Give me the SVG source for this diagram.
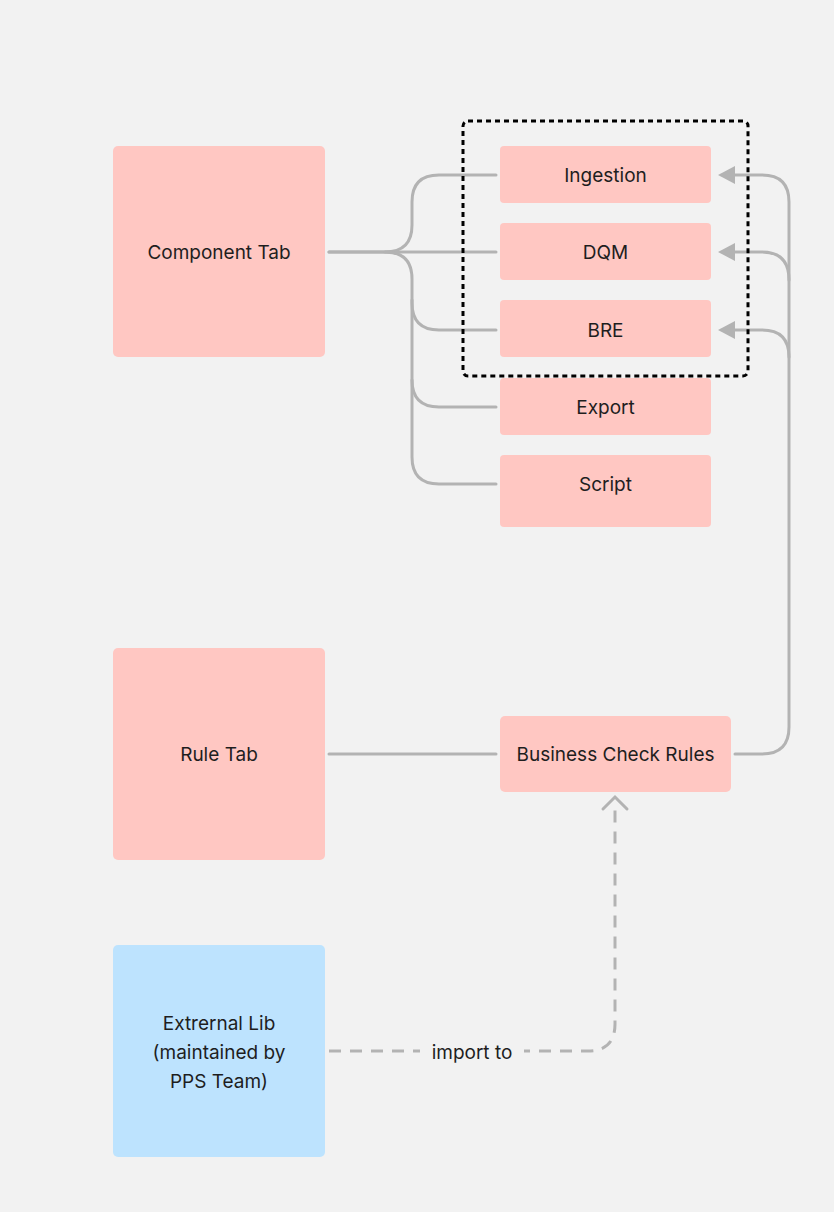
<svg xmlns="http://www.w3.org/2000/svg" width="834" height="1212" viewBox="0 0 834 1212">
<style>
.n{fill:#ffc7c2}
.b{fill:#bde3fe}
.t{font-family:Inter,"Liberation Sans",sans-serif;font-size:19px;fill:#1e1e1e;text-anchor:middle;dominant-baseline:central}
.c{fill:none;stroke:#b3b3b3;stroke-width:3;stroke-linecap:round}
.d{fill:none;stroke:#b3b3b3;stroke-width:3;stroke-dasharray:12 9}
</style>
<rect width="834" height="1212" fill="#f2f2f2"/>
<g id="connectors">
<path class="c" d="M329,252 H385 Q412,252 412,225 V202 Q412,175 439,175 H496"/>
<path class="c" d="M329,252 H496"/>
<path class="c" d="M385,252 Q412,252 412,279 V303 Q412,330 439,330 H496"/>
<path class="c" d="M412,300 V380 Q412,407 439,407 H496"/>
<path class="c" d="M412,380 V457 Q412,484 439,484 H496"/>
<path class="c" d="M329,754 H496"/>
<path class="c" d="M735,754 H762 Q789,754 789,727 V202 Q789,175 762,175 H735"/>
<path class="c" d="M789,280 Q789,252 762,252 H735"/>
<path class="c" d="M789,357 Q789,330 762,330 H735"/>
<path d="M735,166 L718,175 L735,184 Z" fill="#b3b3b3"/>
<path d="M735,243 L718,252 L735,261 Z" fill="#b3b3b3"/>
<path d="M735,321 L718,330 L735,339 Z" fill="#b3b3b3"/>
<path class="d" d="M329,1051 H588 Q615,1051 615,1024 V802"/>
<path class="c" d="M603,809 L615,797 L627,809"/>
<rect x="420" y="1038" width="104" height="28" fill="#f2f2f2"/>
<text class="t" x="472" y="1052">import to</text>
</g>
<g id="group-box">
<rect x="463" y="121" width="285" height="255" rx="5" fill="none" stroke="#000" stroke-width="3" stroke-dasharray="5 4"/>
</g>
<g id="component-tab"><rect class="n" x="113" y="146" width="212" height="211" rx="5"/><text class="t" x="219" y="252">Component Tab</text></g>
<g id="ingestion"><rect class="n" x="500" y="146" width="211" height="57" rx="4"/><text class="t" x="605.5" y="175">Ingestion</text></g>
<g id="dqm"><rect class="n" x="500" y="223" width="211" height="57" rx="4"/><text class="t" x="605.5" y="252">DQM</text></g>
<g id="bre"><rect class="n" x="500" y="300" width="211" height="57" rx="4"/><text class="t" x="605.5" y="330">BRE</text></g>
<g id="export"><rect class="n" x="500" y="378" width="211" height="57" rx="4"/><text class="t" x="605.5" y="407">Export</text></g>
<g id="script"><rect class="n" x="500" y="455" width="211" height="72" rx="4"/><text class="t" x="605.5" y="484">Script</text></g>
<g id="rule-tab"><rect class="n" x="113" y="648" width="212" height="212" rx="5"/><text class="t" x="219" y="754">Rule Tab</text></g>
<g id="business-check-rules"><rect class="n" x="500" y="716" width="231" height="76" rx="5"/><text class="t" x="615.5" y="754">Business Check Rules</text></g>
<g id="external-lib"><rect class="b" x="113" y="945" width="212" height="212" rx="5"/>
<text class="t" x="219" y="1023">Extrernal Lib</text>
<text class="t" x="219" y="1052">(maintained by</text>
<text class="t" x="219" y="1081">PPS Team)</text></g>
</svg>
